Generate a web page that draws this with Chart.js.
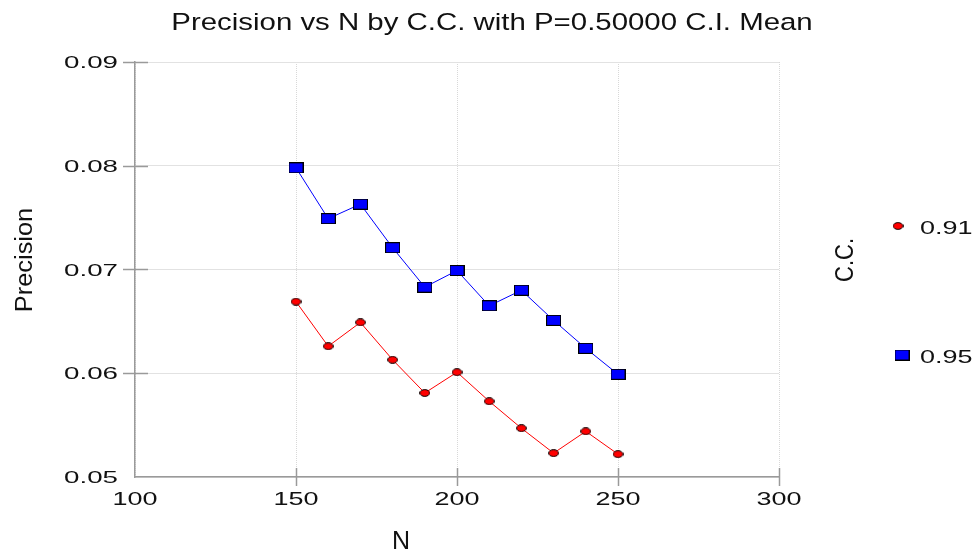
<!DOCTYPE html>
<html>
<head>
<meta charset="utf-8">
<title>Precision vs N by C.C.</title>
<script src="https://cdn.jsdelivr.net/npm/chart.js@4.4.1/dist/chart.umd.min.js"></script>
<style>
  html, body { margin: 0; padding: 0; background: #fff; }
  #wrap { width: 980px; height: 552px; position: relative; }
</style>
</head>
<body>
<div id="wrap"><canvas id="precisionChart"></canvas></div>
<script>
const nValues = [150, 160, 170, 180, 190, 200, 210, 220, 230, 240, 250];
const precision91 = [0.0669, 0.0626, 0.0649, 0.0613, 0.0581, 0.0601, 0.0573, 0.0547, 0.0523, 0.0544, 0.0522];
const precision95 = [0.0798, 0.0749, 0.0763, 0.0721, 0.0683, 0.0699, 0.0665, 0.0680, 0.0651, 0.0624, 0.0599];
const seriesLabels = ["0.91", "0.95"];
const xTickValues = [100, 150, 200, 250, 300];
const xTickLabels = ["100", "150", "200", "250", "300"];
const yTickValues = [0.05, 0.06, 0.07, 0.08, 0.09];
const yTickLabels = ["0.05", "0.06", "0.07", "0.08", "0.09"];

const chartCanvas = document.getElementById("precisionChart");
const FONT = "'Liberation Sans', Arial, sans-serif";
const AXIS_GRAY = "#9a9a9a";

function makeMarker(w, h, fill, round) {
  const c = document.createElement("canvas");
  c.width = w;
  c.height = h;
  const g = c.getContext("2d");
  g.fillStyle = fill;
  g.strokeStyle = "#000";
  g.lineWidth = 1;
  if (round) {
    g.beginPath();
    g.ellipse(w / 2, h / 2, w / 2 - 0.6, h / 2 - 0.6, 0, 0, Math.PI * 2);
    g.fill();
    g.stroke();
  } else {
    g.fillRect(0.5, 0.5, w - 1, h - 1);
    g.strokeRect(0.5, 0.5, w - 1, h - 1);
  }
  return c;
}

const redDot = makeMarker(11, 8, "#ff0000", true);
const blueBox = makeMarker(15, 11, "#0000ff", false);

// original output is stretched sideways, so text is drawn scaled
function stretchText(ctx, text, x, y, size, sx, align, rot) {
  ctx.save();
  ctx.translate(x, y);
  if (rot) ctx.rotate(rot);
  ctx.scale(sx, 1);
  ctx.font = `${size}px ${FONT}`;
  ctx.fillStyle = "#111";
  ctx.textAlign = align;
  ctx.textBaseline = "alphabetic";
  ctx.fillText(text, 0, 0);
  ctx.restore();
}

const decorPlugin = {
  id: "decor",
  afterDraw(chart) {
    const { ctx, scales } = chart;
    const xs = scales.x;
    const ys = scales.y;
    const area = chart.chartArea;

    // tick marks crossing the axes
    ctx.save();
    ctx.strokeStyle = AXIS_GRAY;
    ctx.lineWidth = 1.5;
    ctx.beginPath();
    xTickValues.slice(1).forEach((v) => {
      const px = Math.round(xs.getPixelForValue(v)) + 0.5;
      ctx.moveTo(px, area.bottom - 9);
      ctx.lineTo(px, area.bottom + 9);
    });
    yTickValues.slice(1).forEach((v) => {
      const py = Math.round(ys.getPixelForValue(v)) + 0.5;
      ctx.moveTo(area.left - 12, py);
      ctx.lineTo(area.left + 13, py);
    });
    ctx.stroke();
    ctx.restore();

    xTickValues.forEach((v, i) => {
      stretchText(ctx, xTickLabels[i], xs.getPixelForValue(v), 505, 19, 1.42, "center");
    });
    yTickValues.forEach((v, i) => {
      stretchText(ctx, yTickLabels[i], 118, ys.getPixelForValue(v) + 6, 16.5, 1.68, "right");
    });

    stretchText(ctx, "Precision vs N by C.C. with P=0.50000 C.I. Mean", 492, 30, 24.5, 1.2, "center");
    stretchText(ctx, "N", 401, 549, 25, 1.0, "center");
    stretchText(ctx, "Precision", 32, 260, 23.5, 1.08, "center", -Math.PI / 2);
    stretchText(ctx, "C.C.", 853, 260, 25, 0.88, "center", -Math.PI / 2);

    // legend
    ctx.drawImage(redDot, 898 - redDot.width / 2, 226 - redDot.height / 2);
    stretchText(ctx, seriesLabels[0], 920, 234, 18, 1.5, "left");
    ctx.drawImage(blueBox, 902 - blueBox.width / 2, 355 - blueBox.height / 2);
    stretchText(ctx, seriesLabels[1], 920, 363, 18, 1.5, "left");
  },
};

new Chart(chartCanvas, {
  type: "line",
  data: {
    datasets: [
      {
        label: seriesLabels[0],
        data: nValues.map((n, i) => ({ x: n, y: precision91[i] })),
        borderColor: "#ff0000",
        borderWidth: 1,
        pointStyle: redDot,
        pointRadius: 5,
        fill: false,
        tension: 0,
      },
      {
        label: seriesLabels[1],
        data: nValues.map((n, i) => ({ x: n, y: precision95[i] })),
        borderColor: "#0000ff",
        borderWidth: 1,
        pointStyle: blueBox,
        pointRadius: 6,
        fill: false,
        tension: 0,
      },
    ],
  },
  options: {
    responsive: true,
    maintainAspectRatio: false,
    animation: false,
    layout: { padding: { left: 0, right: 201, top: 62, bottom: 0 } },
    plugins: {
      legend: { display: false },
      title: { display: false },
      tooltip: { enabled: false },
    },
    scales: {
      x: {
        type: "linear",
        min: 100,
        max: 300,
        ticks: { stepSize: 50, display: false },
        grid: { color: "#d8d8d8", lineWidth: 1, drawTicks: false },
        border: { color: AXIS_GRAY, width: 1.5, dash: [1, 1] },
        afterFit(scale) { scale.height = 75; },
      },
      y: {
        min: 0.05,
        max: 0.09,
        ticks: { stepSize: 0.01, display: false },
        grid: { color: "#e2e2e2", lineWidth: 1, drawTicks: false },
        border: { color: AXIS_GRAY, width: 1.5 },
        afterFit(scale) { scale.width = 135; },
      },
    },
  },
  plugins: [decorPlugin],
});
</script>
</body>
</html>
